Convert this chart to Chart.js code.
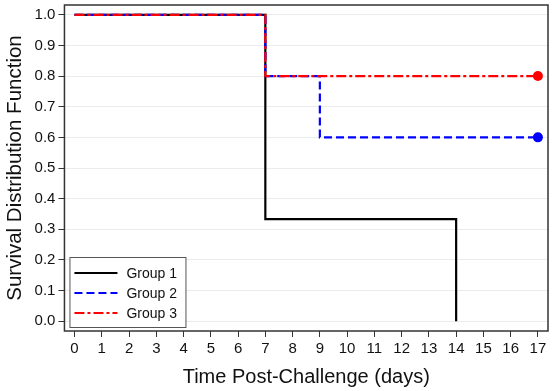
<!DOCTYPE html>
<html>
<head>
<meta charset="utf-8">
<script src="https://cdn.jsdelivr.net/npm/chart.js@4"></script>
<style>
  html, body { margin: 0; padding: 0; background: #fff; }
  #wrap { width: 554px; height: 391px; }
</style>
</head>
<body>
<div id="wrap"><canvas id="c"></canvas></div>
<script>
// ===== 数据 =====
const xTicks = [0,1,2,3,4,5,6,7,8,9,10,11,12,13,14,15,16,17];
const yTicks = [0,0.1,0.2,0.3,0.4,0.5,0.6,0.7,0.8,0.9,1.0];

const g1Time = [0, 7, 14];
const g1Surv = [1.0, 0.333, 0.0];
const g2Time = [0, 7, 9, 17];
const g2Surv = [1.0, 0.8, 0.6, 0.6];
const g3Time = [0, 7, 17];
const g3Surv = [1.0, 0.8, 0.8];

function pts(t, s) { return t.map((x, i) => ({ x: x, y: s[i] })); }
function lastOnly(arr, r) { return arr.map((_, i) => i === arr.length - 1 ? r : 0); }

const FONT = 'Liberation Sans, Arial, sans-serif';

// 外框 + 图例
const framePlugin = {
  id: 'frame',
  afterDatasetsDraw(chart) {
    const { ctx, chartArea: a } = chart;
    ctx.save();
    ctx.strokeStyle = '#333';
    ctx.lineWidth = 1.5;
    ctx.strokeRect(a.left, a.top, a.right - a.left, a.bottom - a.top);

    // 图例框
    const lx = a.left + 5, ly = a.bottom - 74, lw = 116, lh = 70;
    ctx.fillStyle = '#fff';
    ctx.fillRect(lx, ly, lw, lh);
    ctx.strokeStyle = '#555';
    ctx.lineWidth = 1;
    ctx.strokeRect(lx + 0.5, ly + 0.5, lw, lh);
    ctx.font = '14px ' + FONT;
    ctx.textBaseline = 'middle';
    chart.data.datasets.forEach((ds, i) => {
      const yy = ly + 16 + i * 20;
      ctx.beginPath();
      ctx.strokeStyle = ds.borderColor;
      ctx.lineWidth = ds.borderWidth;
      ctx.setLineDash(ds.borderDash || []);
      ctx.moveTo(lx + 5, yy);
      ctx.lineTo(lx + 48, yy);
      ctx.stroke();
      ctx.setLineDash([]);
      ctx.fillStyle = '#111';
      ctx.fillText(ds.label, lx + 57, yy + 1);
    });
    ctx.restore();
  }
};

new Chart(document.getElementById('c'), {
  type: 'line',
  data: {
    datasets: [{
      label: 'Group 1',
      data: pts(g1Time, g1Surv),
      borderColor: '#000',
      borderWidth: 2.2,
      stepped: 'before',
      pointRadius: 0,
      order: 3
    }, {
      label: 'Group 2',
      data: pts(g2Time, g2Surv),
      borderColor: '#0000ff',
      backgroundColor: '#0000ff',
      borderWidth: 2.2,
      borderDash: [8, 4],
      stepped: 'before',
      pointRadius: lastOnly(g2Time, 5),
      pointBorderWidth: 0,
      order: 2
    }, {
      label: 'Group 3',
      data: pts(g3Time, g3Surv),
      borderColor: '#ff0000',
      backgroundColor: '#ff0000',
      borderWidth: 2.2,
      borderDash: [10, 3, 3, 3],
      stepped: 'before',
      pointRadius: lastOnly(g3Time, 5),
      pointBorderWidth: 0,
      order: 1
    }]
  },
  options: {
    responsive: true,
    maintainAspectRatio: false,
    animation: false,
    layout: { padding: { top: 3, right: 6, left: 3, bottom: 2 } },
    plugins: { legend: { display: false }, tooltip: { enabled: false } },
    scales: {
      x: {
        type: 'linear',
        min: -0.37, max: 17.37,
        afterBuildTicks: s => { s.ticks = xTicks.map(v => ({ value: v })); },
        afterFit: s => { s.paddingLeft = 0; s.paddingRight = 0; },
        grid: { display: true, drawOnChartArea: false, drawTicks: true, tickLength: 6, color: '#333' },
        border: { display: false },
        ticks: { color: '#111', font: { family: FONT, size: 15 }, padding: 3, maxRotation: 0, autoSkip: false },
        title: { display: true, text: 'Time Post-Challenge (days)', color: '#111', font: { family: FONT, size: 20 }, padding: { top: 4, bottom: 0 } }
      },
      y: {
        min: -0.032, max: 1.032,
        afterBuildTicks: s => { s.ticks = yTicks.map(v => ({ value: v })); },
        afterFit: s => { s.paddingTop = 0; s.paddingBottom = 0; },
        grid: { color: '#e8ecef', tickColor: '#333', tickLength: 6, lineWidth: 1 },
        border: { display: false },
        ticks: { color: '#111', font: { family: FONT, size: 15 }, padding: 3, callback: v => v.toFixed(1) },
        title: { display: true, text: 'Survival Distribution Function', color: '#111', font: { family: FONT, size: 20.5 }, padding: { top: 0, bottom: 4 } }
      }
    }
  },
  plugins: [framePlugin]
});
</script>
</body>
</html>
